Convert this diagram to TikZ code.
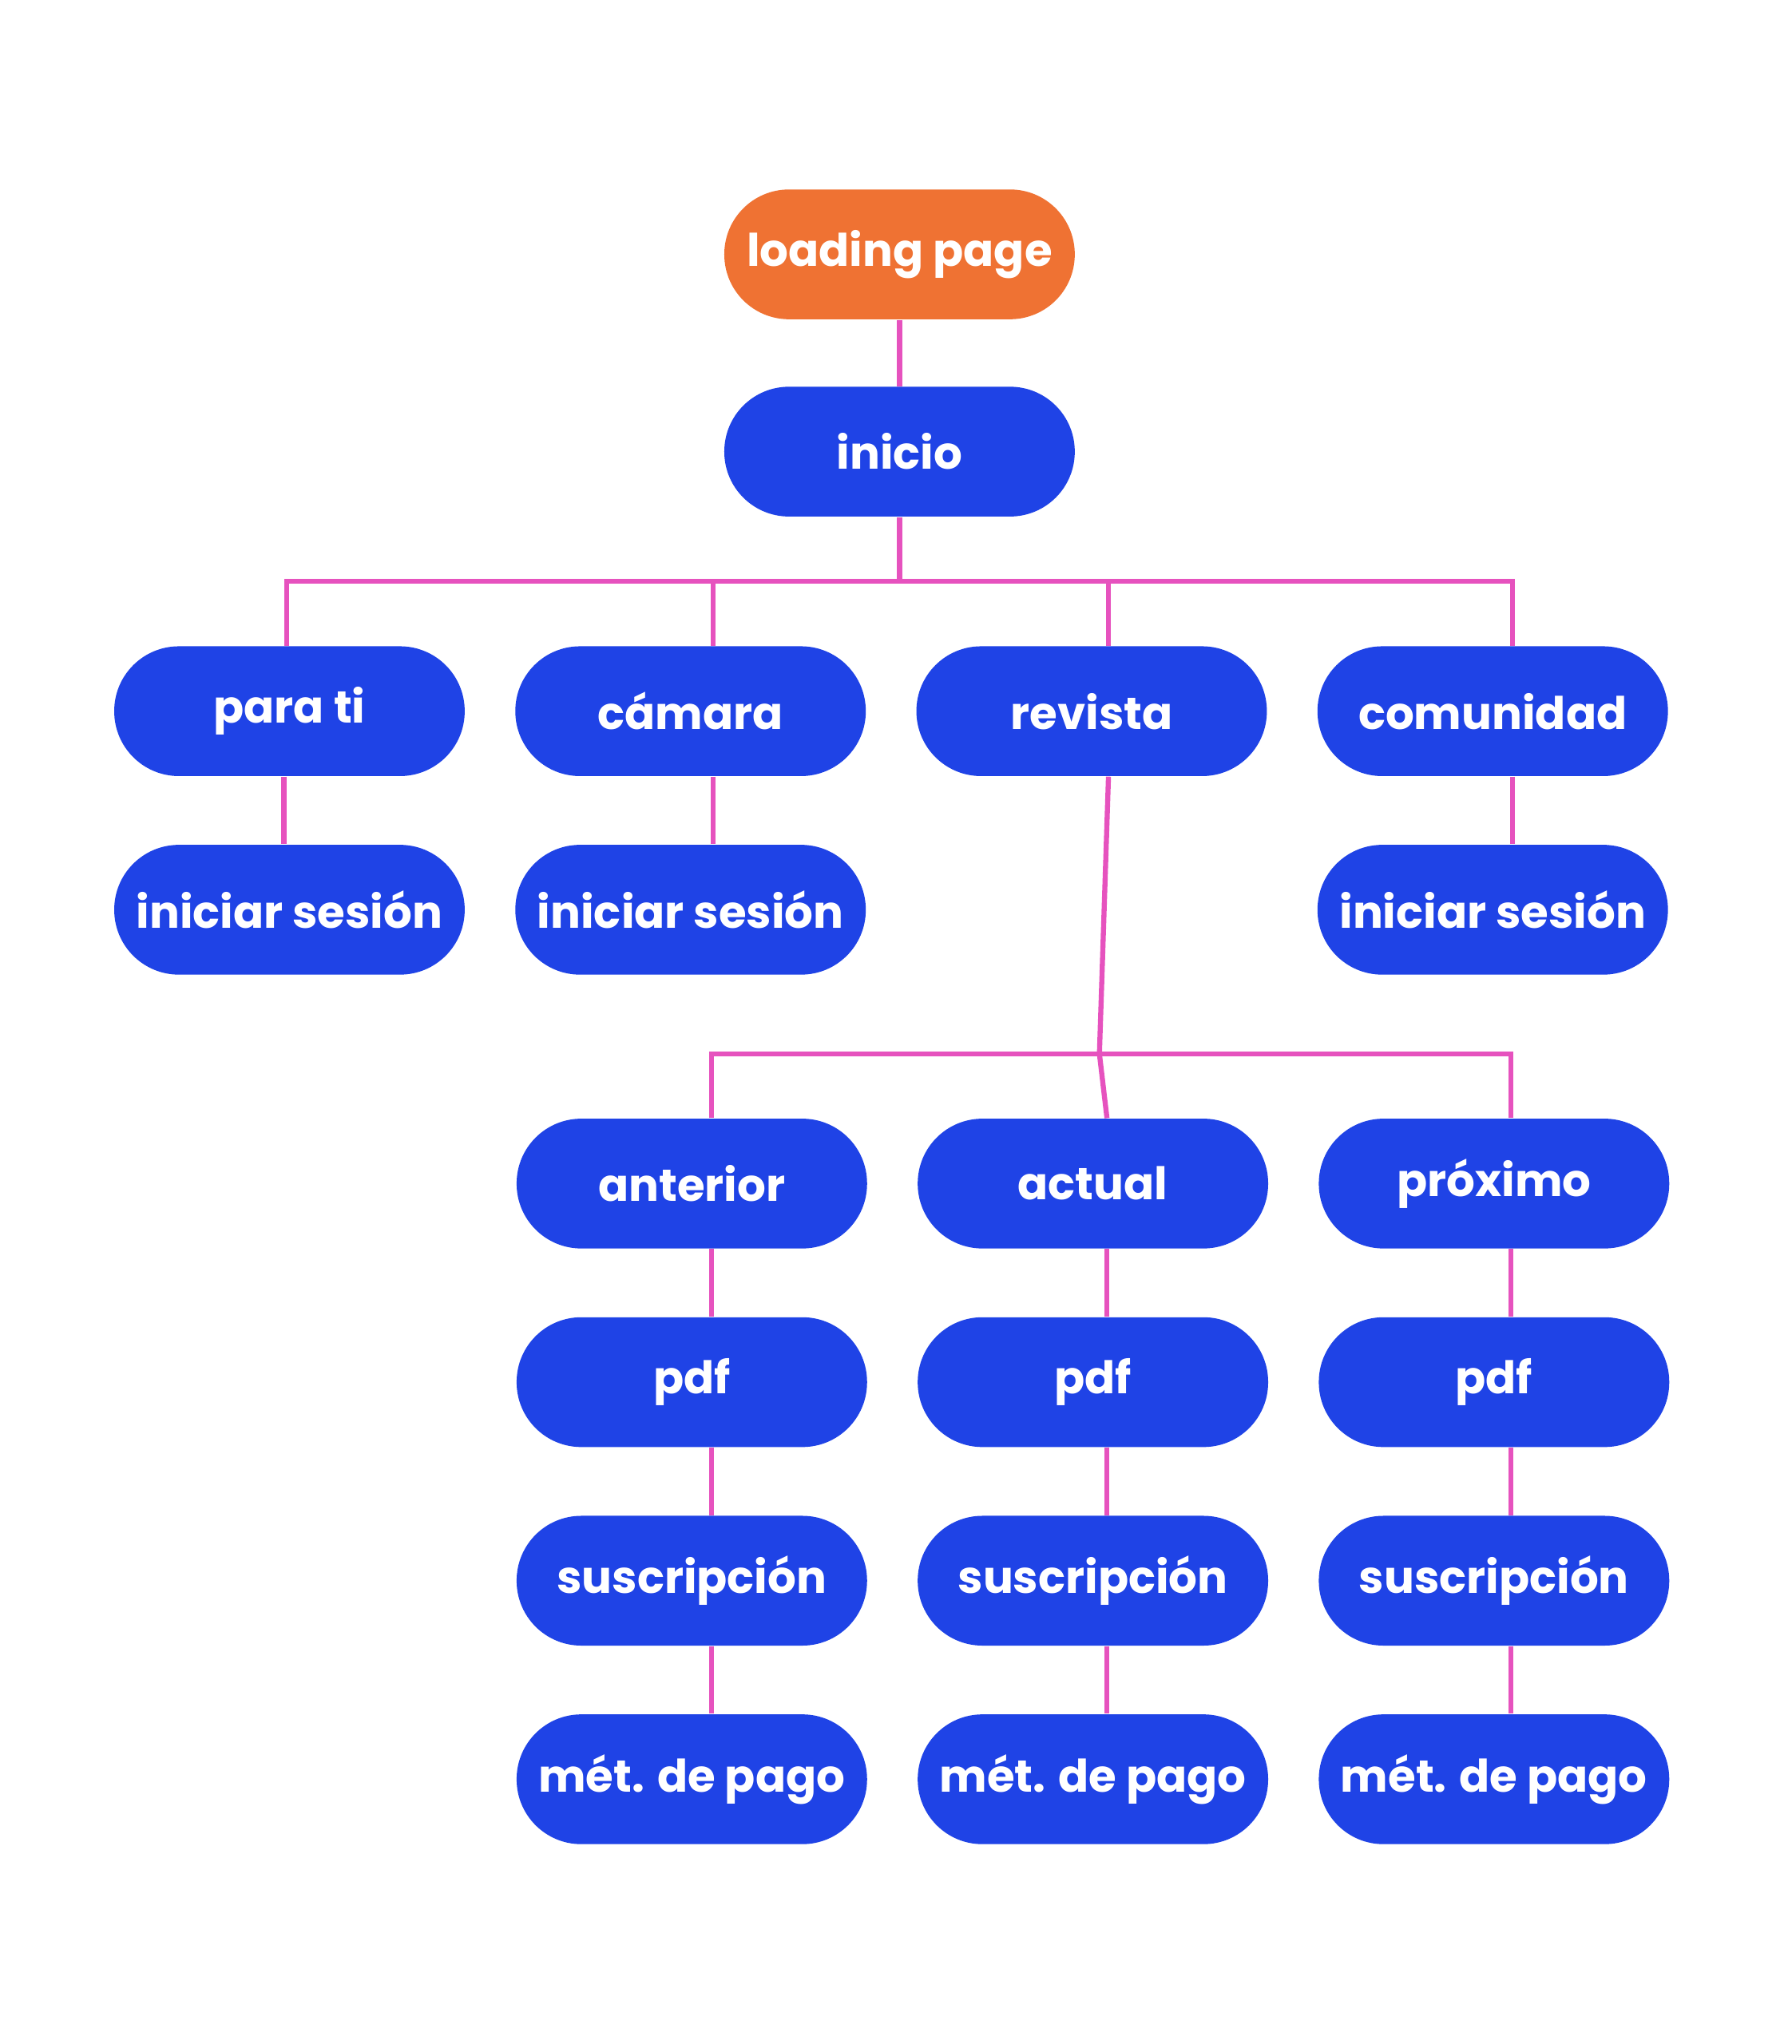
\documentclass[tikz,border=0pt]{standalone}
\usepackage{fontspec}
\setmainfont{Poppins}[BoldFont={* Bold}]
\definecolor{nblue}{HTML}{1F43E6}
\definecolor{norange}{HTML}{EF7233}
\definecolor{npink}{HTML}{E652BE}
\begin{document}
\begin{tikzpicture}[x=0.01625cm,y=-0.01625cm,
  box/.style={rectangle,rounded corners=0.81cm,fill=nblue,text=white,minimum width=4.3875cm,minimum height=1.625cm,inner sep=0pt,font=\fontsize{16}{18}\selectfont\bfseries},
  ln/.style={draw=npink,line width=1.8pt}]
\useasboundingbox[fill=white] (0,0) rectangle (1380,1575);
\node[box,fill=norange] (lp) at (693,196) {loading page};
\node[box] (in) at (693,348) {inicio};
\node[box] (pt) at (223,548) {para ti};
\node[box] (ca) at (532,548) {cámara};
\node[box] (re) at (841,548) {revista};
\node[box] (co) at (1150,548) {comunidad};
\node[box] (is1) at (223,701) {iniciar sesión};
\node[box] (is2) at (532,701) {iniciar sesión};
\node[box] (is3) at (1150,701) {iniciar sesión};
\foreach \n/\x/\t in {an/533/anterior,ac/842/actual,pr/1151/próximo}{
  \node[box] (\n) at (\x,912) {\t};
  \node[box] (\n p) at (\x,1065) {pdf};
  \node[box] (\n s) at (\x,1218) {suscripción};
  \node[box] (\n m) at (\x,1371) {mét. de pago};
}
\coordinate (b1) at (693,448);
\coordinate (b2) at (847,812);
\begin{scope}[on background layer/.style={}]
\draw[ln] (lp.south) -- (in.north);
\draw[ln] (in.south) -- (b1);
\draw[ln] (pt.north) ++(-2,0) |- (b1) -| ([xshift=7]co.north);
\draw[ln] ([xshift=8]ca.north) -- ([xshift=8]ca.north |- b1);
\draw[ln] ([xshift=6]re.north) -- ([xshift=6]re.north |- b1);
\draw[ln] ([xshift=-2]pt.south) -- ([xshift=-2]is1.north);
\draw[ln] ([xshift=8]ca.south) -- ([xshift=8]is2.north);
\draw[ln] ([xshift=7]co.south) -- ([xshift=7]is3.north);
\draw[ln] ([xshift=6]re.south) -- (b2);
\draw[ln] ([xshift=7]an.north) |- (b2) -| ([xshift=6]pr.north);
\draw[ln] (b2) -- ([xshift=5]ac.north);
\foreach \n/\s in {an/7,ac/5,pr/6}{
  \draw[ln] ([xshift=\s]\n.south) -- ([xshift=\s]\n p.north);
  \draw[ln] ([xshift=\s]\n p.south) -- ([xshift=\s]\n s.north);
  \draw[ln] ([xshift=\s]\n s.south) -- ([xshift=\s]\n m.north);
}
\end{scope}
\end{tikzpicture}
\end{document}
